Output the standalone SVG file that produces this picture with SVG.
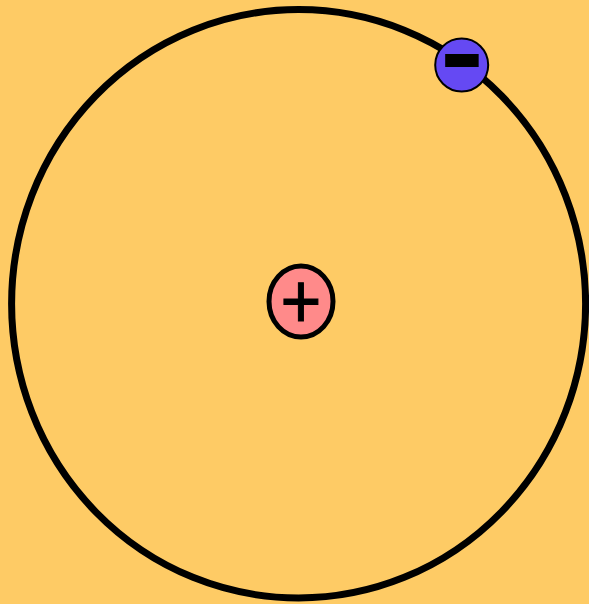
<svg xmlns="http://www.w3.org/2000/svg" width="589" height="604" viewBox="0 0 589 604">
  <style>
    .sign { font-family: "Liberation Sans", Arial, sans-serif; fill: #000; text-anchor: middle; }
  </style>
  <rect width="589" height="604" fill="#FECB65"/>
  <g id="orbit">
    <ellipse cx="298.6" cy="303.8" rx="287" ry="294.2" fill="none" stroke="#000" stroke-width="7"/>
  </g>
  <g id="nucleus">
    <ellipse cx="301" cy="301.5" rx="32" ry="35.5" fill="#FF8A8A" stroke="#000" stroke-width="5"/>
    <text class="sign" x="301" y="326" font-size="70" stroke="#000" stroke-width="1" transform="translate(301 301.5) scale(1 1.1) translate(-301 -301.5)">+</text>
  </g>
  <g id="electron">
    <circle cx="461.7" cy="65" r="26.5" fill="#6549F3" stroke="#000" stroke-width="2"/>
    <text class="sign" x="462" y="89" font-size="110" font-weight="bold" transform="translate(462 60) scale(1.2 1) translate(-462 -60)">-</text>
  </g>
</svg>
